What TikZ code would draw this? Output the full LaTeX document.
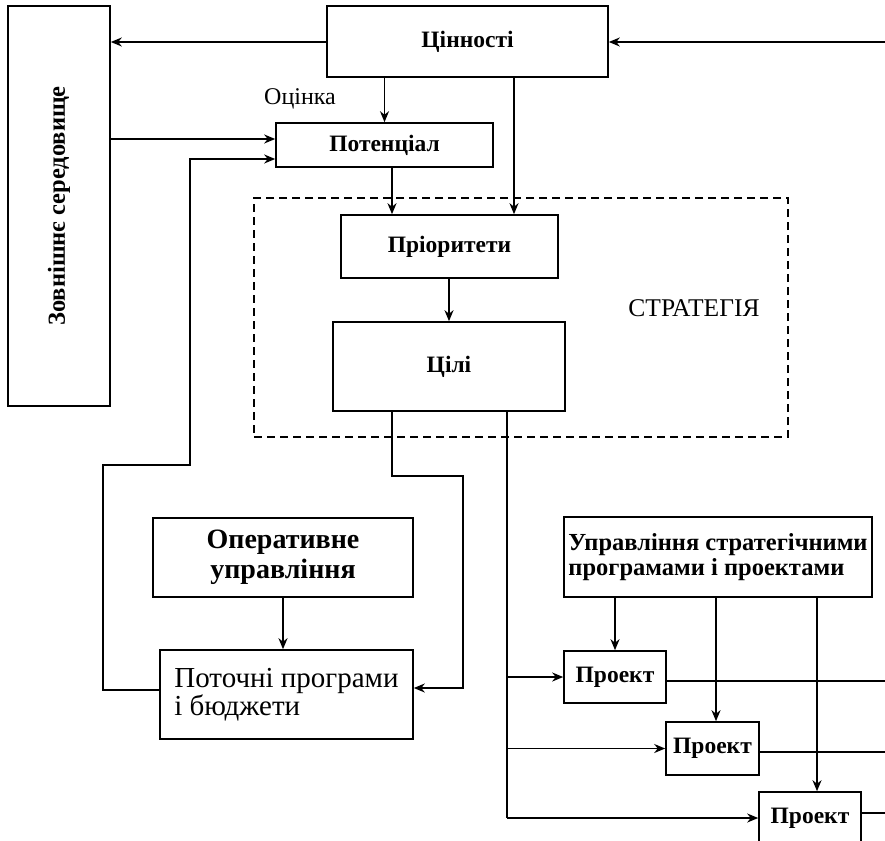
\documentclass[tikz,border=0pt]{standalone}
\usepackage{fontspec}
\setmainfont{Liberation Serif}
\usetikzlibrary{arrows.meta,calc}
\begin{document}
\begin{tikzpicture}[x=1pt,y=-1pt,
  box/.style={draw,line width=1.6pt,inner sep=0pt,font=\fontsize{23.5}{25}\selectfont\bfseries},
  bigbold/.style={font=\fontsize{28}{30}\selectfont\bfseries},
  plain/.style={font=\fontsize{24}{26}\selectfont},
  arr/.style={line width=1.6pt,-{Stealth[length=11pt,width=9pt,inset=3.5pt]}},
  ln/.style={line width=1.6pt},
  dashbox/.style={draw,line width=1.2pt,dash pattern=on 8pt off 5pt}]
\useasboundingbox (0,0) rectangle (885,840);
\clip (0,0) rectangle (885,840);
% boxes
\node[box,minimum width=102,minimum height=400] (env) at (59,206) {};
\node[font=\fontsize{24.5}{26}\selectfont\bfseries,rotate=90] (envt) at (env.center) {Зовнішнє середовище};
\node[box,minimum width=281,minimum height=71] (val) at (467.5,41.5) {Цінності};
\node[box,minimum width=217,minimum height=44] (pot) at (384.5,145) {Потенціал};
\node[dashbox,minimum width=534,minimum height=239] (strat) at (521,317.5) {};
\node[box,minimum width=217,minimum height=63] (pri) at (449.5,246.5) {Пріоритети};
\node[box,minimum width=232,minimum height=89] (goal) at (449,366.5) {Цілі};
\node[box,bigbold,align=center,minimum width=260,minimum height=79] (oper) at (283,557.5) {Оперативне\\управління};
\node[box,font=\fontsize{29}{28}\selectfont,align=left,minimum width=253,minimum height=89] (cur) at (286.5,694.5) {Поточні програми\\і бюджети};
\node[box,align=left,font=\fontsize{24.5}{25}\selectfont\bfseries,minimum width=308,minimum height=80] (mgmt) at (718,557) {Управління стратегічними\\програмами і проектами};
\node[box,minimum width=102,minimum height=52] (p1) at (615,677) {Проект};
\node[box,minimum width=93,minimum height=53] (p2) at (712.5,748.5) {Проект};
\node[box,minimum width=102,minimum height=52] (p3) at (810,818) {Проект};
% labels
\node[plain] (est) at (300,99) {Оцінка};
\node[font=\fontsize{25.5}{27}\selectfont] (strl) at (694,308) {СТРАТЕГІЯ};
% helper coordinates
\coordinate (rin) at (885,42);
\coordinate (vx) at (514,0);
\coordinate (px) at (392,0);
\coordinate (ea) at (0,139);
\coordinate (eb) at (0,159);
\coordinate (fbx) at (190,0);
\coordinate (fby) at (0,465);
\coordinate (fbl) at (103,690);
\coordinate (gx) at (392,476);
\coordinate (gr) at (463,688);
\coordinate (tx) at (507,0);
\coordinate (m2) at (716,0);
\coordinate (m3) at (817,0);
\coordinate (o1) at (885,681);
\coordinate (o2) at (885,752);
\coordinate (o3) at (885,813);
% connectors
\draw[arr] (val.west |- rin) -- (env.east |- rin);
\draw[arr] (rin) -- (val.east |- rin);
\draw[arr] (val.south -| pot.north) -- (pot.north);
\draw[arr] (val.south -| vx) -- (pri.north -| vx);
\draw[arr] (env.east |- ea) -- (pot.west |- ea);
\draw[arr] (pot.south -| px) -- (pri.north -| px);
\draw[arr] (pri.south -| goal.north) -- (goal.north);
\draw[arr] (oper.south) -- (cur.north -| oper.south);
% feedback loop
\draw[arr] (cur.west |- fbl) -- (fbl) |- (fbx |- fby) -- (fbx |- eb) -- (pot.west |- eb);
% goal -> current
\draw[arr] (goal.south -| gx) -- (gx) -| (gr) -- (cur.east |- gr);
% goal -> projects
\draw[ln] (goal.south -| tx) -- (tx |- p3.west);
\draw[arr] (tx |- p1.west) -- (p1.west);
\draw[arr] (tx |- p2.west) -- (p2.west);
\draw[arr] (tx |- p3.west) -- (p3.west);
% management -> projects
\draw[arr] (mgmt.south -| p1.north) -- (p1.north);
\draw[arr] (mgmt.south -| m2) -- (p2.north -| m2);
\draw[arr] (mgmt.south -| m3) -- (p3.north -| m3);
% outputs
\draw[ln] (p1.east |- o1) -- (o1);
\draw[ln] (p2.east |- o2) -- (o2);
\draw[ln] (p3.east |- o3) -- (o3);
\end{tikzpicture}
\end{document}
